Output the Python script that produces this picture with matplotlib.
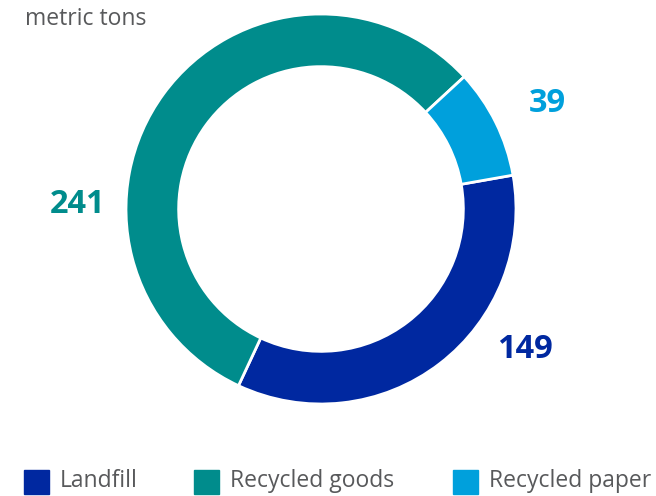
import matplotlib.pyplot as plt
from matplotlib.patches import Rectangle

# Daten
categories = ['Landfill', 'Recycled goods', 'Recycled paper']
values = [149, 241, 39]
colors = ['#0028A0', '#008C8C', '#00A0DC']
unit = 'metric tons'

W, H = 656, 496
fig = plt.figure(figsize=(W / 100, H / 100), dpi=100)
plt.rcParams['font.family'] = ['Open Sans', 'DejaVu Sans']

# Ring: Mittelpunkt (321, 209), Radius 195 px
cx, cy, r = 321, 209, 195
ax = fig.add_axes([(cx - r) / W, (H - cy - r) / H, 2 * r / W, 2 * r / H])
wedges, _ = ax.pie(values, colors=colors, startangle=10, counterclock=False,
                   radius=1, wedgeprops=dict(width=0.27, edgecolor='white', linewidth=2))
ax.set_xlim(-1, 1)
ax.set_ylim(-1, 1)
ax.axis('off')

# Wertbeschriftungen
label_pos = {'Landfill': (525, 350), 'Recycled goods': (78, 204), 'Recycled paper': (547, 103)}
for cat, val, col in zip(categories, values, colors):
    x, y = label_pos[cat]
    fig.text(x / W, 1 - y / H, str(val), color=col, fontsize=23.5, fontweight='bold',
             ha='center', va='center')

fig.text(25 / W, 1 - 19 / H, unit, color='#58595B', fontsize=16.5, ha='left', va='center')

# Legende
leg_x = [24, 194, 453]
for lx, cat, col in zip(leg_x, categories, colors):
    fig.patches.append(Rectangle((lx / W, 1 - 494 / H), 25 / W, 24 / H,
                                 transform=fig.transFigure, color=col))
    fig.text((lx + 36) / W, 1 - 481 / H, cat, color='#58595B', fontsize=16.5,
             ha='left', va='center')

fig.savefig('out.png', dpi=100)
